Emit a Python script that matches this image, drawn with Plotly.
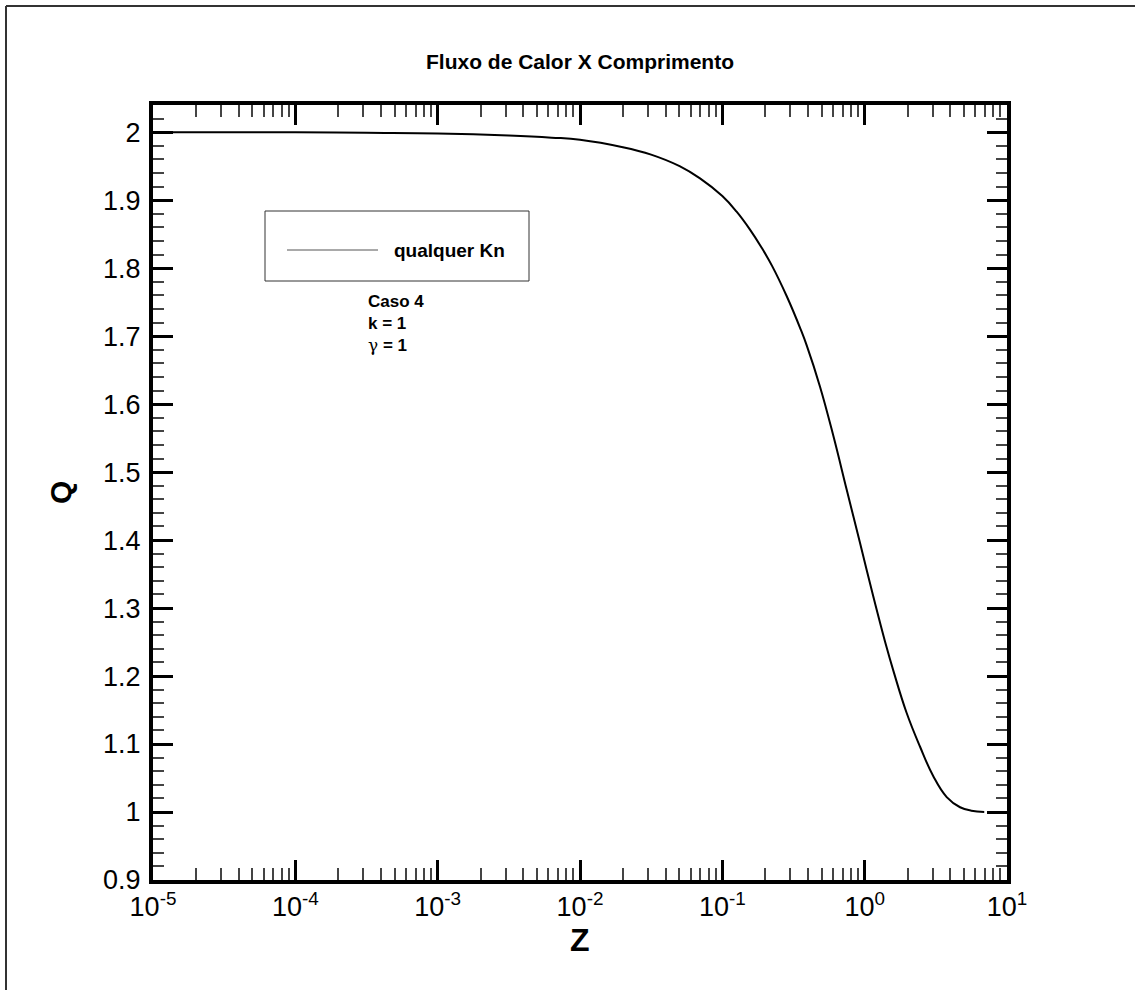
import plotly.graph_objects as go

# Data
z_values = [1e-5, 1e-4, 3.16e-4, 1e-3, 3.16e-3, 6.31e-3, 0.01, 0.02, 0.0316, 0.0501,
            0.0697, 0.1, 0.126, 0.156, 0.189, 0.224, 0.283, 0.355, 0.392, 0.485,
            0.603, 0.748, 0.927, 1.15, 1.41, 1.59, 1.97, 2.45, 3.03, 3.77,
            4.68, 5.62, 6.92]
q_values = [2.0, 2.0, 1.999, 1.998, 1.995, 1.992, 1.989, 1.978, 1.967, 1.950,
            1.932, 1.906, 1.883, 1.857, 1.830, 1.803, 1.759, 1.710, 1.686, 1.626,
            1.553, 1.474, 1.396, 1.317, 1.246, 1.208, 1.146, 1.096, 1.053, 1.022,
            1.007, 1.002, 1.0002]

x_tick_vals = [1e-5, 1e-4, 1e-3, 1e-2, 1e-1, 1e0, 1e1]
x_tick_text = ["10<sup>-5</sup>", "10<sup>-4</sup>", "10<sup>-3</sup>", "10<sup>-2</sup>",
               "10<sup>-1</sup>", "10<sup>0</sup>", "10<sup>1</sup>"]
y_tick_vals = [0.9, 1.0, 1.1, 1.2, 1.3, 1.4, 1.5, 1.6, 1.7, 1.8, 1.9, 2.0]
y_tick_text = ["0.9", "1", "1.1", "1.2", "1.3", "1.4", "1.5", "1.6", "1.7", "1.8", "1.9", "2"]

x_minor_vals = [k * 10.0 ** e for e in range(-5, 1) for k in range(2, 10)]

title_text = "Fluxo de Calor X Comprimento"
legend_label = "qualquer Kn"
note_text = ("<b>Caso 4<br>k = 1<br></b>"
             "<span style=\"font-family:'DejaVu Serif'\">γ</span><b> = 1</b>")

FONT = "Liberation Sans, Arial, Helvetica, sans-serif"

fig = go.Figure()
fig.add_trace(go.Scatter(
    x=z_values, y=q_values, mode="lines",
    line=dict(color="black", width=2, shape="spline", smoothing=1.2),
    showlegend=False, name=legend_label,
))

axis_common = dict(
    showline=True, linecolor="black", linewidth=4, mirror="allticks",
    ticks="inside", ticklen=20, tickwidth=3, tickcolor="black",
    showgrid=False, zeroline=False,
    tickfont=dict(family=FONT, size=27, color="black"),
)

fig.update_xaxes(
    type="log", range=[-5, 1],
    tickmode="array", tickvals=x_tick_vals, ticktext=x_tick_text,
    minor=dict(tickmode="array", tickvals=x_minor_vals, ticks="inside",
               ticklen=12, tickwidth=1.5, tickcolor="#444", showgrid=False),
    **axis_common,
)
fig.update_yaxes(
    range=[0.9, 2.04],
    tickmode="array", tickvals=y_tick_vals, ticktext=y_tick_text,
    ticklabelstandoff=3,
    minor=dict(dtick=0.02, tick0=0.9, ticks="inside",
               ticklen=11, tickwidth=1.5, tickcolor="#444", showgrid=False),
    **axis_common,
)

L, R, T, B = 153, 1007, 105, 880
W, H = R - L, B - T


def px(x):
    return (x - L) / W


def py(y):
    return (B - y) / H


shapes = [
    # legend box
    dict(type="rect", xref="paper", yref="paper",
         x0=px(265), x1=px(529), y0=py(281), y1=py(211),
         line=dict(color="#333", width=1), fillcolor="white", layer="above"),
    # legend sample line
    dict(type="line", xref="paper", yref="paper",
         x0=px(287), x1=px(378), y0=py(250), y1=py(250),
         line=dict(color="#555", width=1)),
    # outer frame (top and left)
    dict(type="line", xref="paper", yref="paper",
         x0=px(6), x1=px(1140), y0=py(6), y1=py(6),
         line=dict(color="#333", width=2)),
    dict(type="line", xref="paper", yref="paper",
         x0=px(6), x1=px(6), y0=py(6), y1=py(995),
         line=dict(color="#333", width=2)),
]

annotations = [
    dict(text="<b>" + legend_label + "</b>", xref="paper", yref="paper",
         x=px(392), y=py(250), xanchor="left", yanchor="middle", showarrow=False,
         font=dict(family=FONT, size=19, color="black")),
    dict(text=note_text, xref="paper", yref="paper",
         x=px(366), y=py(290), xanchor="left", yanchor="top", showarrow=False,
         align="left", font=dict(family=FONT, size=17, color="black")),
    dict(text="<b>Z</b>", xref="paper", yref="paper",
         x=0.5, y=py(940), xanchor="center", yanchor="middle", showarrow=False,
         font=dict(family=FONT, size=32, color="black")),
    dict(text="<b>Q</b>", xref="paper", yref="paper",
         x=px(60), y=py(493), xanchor="center", yanchor="middle", showarrow=False,
         textangle=-90, font=dict(family=FONT, size=30, color="black")),
]

fig.update_layout(
    width=1135, height=990,
    margin=dict(l=L, r=1135 - R, t=T, b=990 - B, autoexpand=False),
    paper_bgcolor="white", plot_bgcolor="white",
    title=dict(text="<b>" + title_text + "</b>", x=px(580), xref="paper",
               y=1 - 62 / 990, yref="container", xanchor="center", yanchor="middle",
               font=dict(family=FONT, size=21, color="black")),
    shapes=shapes, annotations=annotations,
    showlegend=False,
)

fig.write_html(
    "out.html",
    config={"displayModeBar": False},
    post_script="document.body.style.margin='0';document.body.style.overflow='hidden';",
)
